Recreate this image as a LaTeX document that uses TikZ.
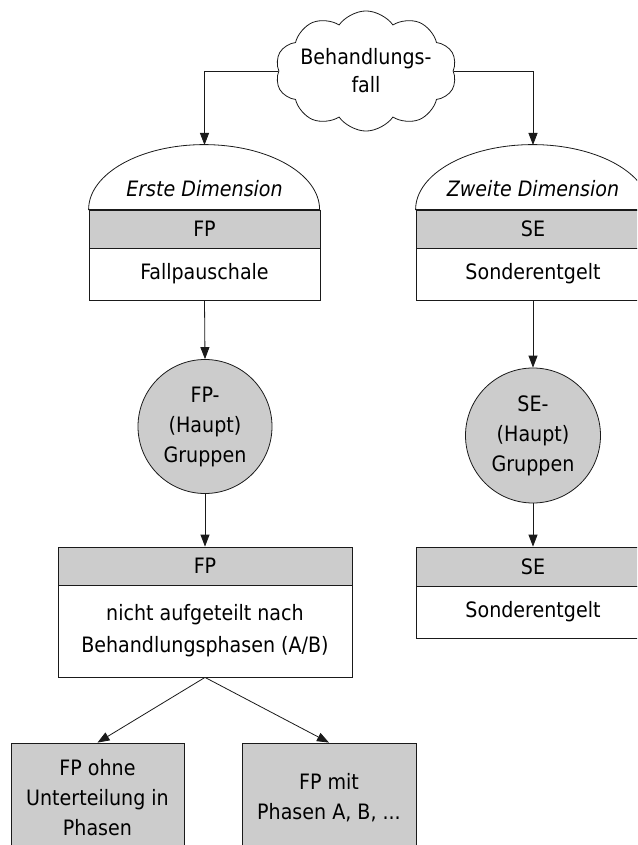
\documentclass[tikz,border=0pt]{standalone}
\usepackage{fontspec}
\setmainfont{DejaVu Sans Condensed}
\usetikzlibrary{shapes.symbols,arrows.meta}
\definecolor{bandgrey}{HTML}{CCCCCC}
\definecolor{linec}{HTML}{1A1A1A}
\begin{document}
\begin{tikzpicture}[x=1pt,y=-1pt,
  every node/.style={font=\fontsize{21.2}{30}\selectfont, align=center, inner sep=0pt, text=black},
  greyband/.style={draw=linec, line width=0.8pt, fill=bandgrey, rectangle},
  whitebox/.style={draw=linec, line width=0.8pt, fill=white, rectangle},
  kreis/.style={draw=linec, line width=0.8pt, fill=bandgrey, circle, minimum size=#1},
  pfeil/.style={draw=linec, line width=0.8pt, -{Triangle[length=12pt,width=9pt]}},
  dome/.style={draw=linec, line width=0.8pt, fill=white}]
\useasboundingbox (0,0) rectangle (637,845);
\clip (0,0) rectangle (637,845);
\fill[white] (0,0) rectangle (637,845);

% cloud
\node[cloud, draw=linec, line width=0.8pt, fill=white, cloud puffs=10, cloud puff arc=110,
      aspect=1.8, inner xsep=-4pt, inner ysep=-7pt,
      font=\fontsize{21.2}{28}\selectfont] (wolke) at (366,71) {Behandlungs-\\fall};

% left top box
\node[greyband, minimum width=231pt, minimum height=38pt] (g1) at (204.5,229) {FP};
\node[whitebox, minimum width=231pt, minimum height=52pt] (w1) at (204.5,274) {Fallpauschale};
\draw[dome] (g1.north west) arc[start angle=180, end angle=0, x radius=115.5pt, y radius=65pt] -- cycle;
\coordinate (d1) at (204.5,145);
\node (e1) at (204.5,189) {\itshape Erste Dimension};

% right top box
\node[greyband, minimum width=234pt, minimum height=38pt] (g2) at (533,229) {SE};
\node[whitebox, minimum width=234pt, minimum height=52pt] (w2) at (533,274) {Sonderentgelt};
\draw[dome] (g2.north west) arc[start angle=180, end angle=0, x radius=117pt, y radius=65pt] -- cycle;
\coordinate (d2) at (533,145);
\node (e2) at (533,189) {\itshape Zweite Dimension};

% circles
\node[kreis=134pt] (c1) at (205,426.5) {FP-\\(Haupt)\\Gruppen};
\node[kreis=135pt] (c2) at (533,435.5) {SE-\\(Haupt)\\Gruppen};

% FP box
\node[greyband, minimum width=294pt, minimum height=38pt] (g3) at (205,566) {FP};
\node[whitebox, minimum width=294pt, minimum height=92pt] (w3) at (205,631) {nicht aufgeteilt nach\\[2pt]Behandlungsphasen (A/B)};

% SE box
\node[greyband, minimum width=234pt, minimum height=39pt] (g4) at (533,566.5) {SE};
\node[whitebox, minimum width=234pt, minimum height=52pt] (w4) at (533,612) {Sonderentgelt};

% bottom boxes
\node[greyband, minimum width=173pt, minimum height=110pt] (b1) at (97.5,798) {FP ohne\\Unterteilung in\\Phasen};
\node[greyband, minimum width=174pt, minimum height=110pt] (b2) at (329,798) {FP mit\\Phasen A, B, ...};

% connectors
\draw[pfeil] (wolke.west) -| (d1);
\draw[pfeil] (wolke.east) -| (d2);
\draw[pfeil] (w1.south) -- (c1.north);
\draw[pfeil] (c1.south) -- (g3.north);
\draw[pfeil] (w2.south) -- (c2.north);
\draw[pfeil] (c2.south) -- (g4.north);
\draw[pfeil] (w3.south) -- (b1.north);
\draw[pfeil] (w3.south) -- (b2.north);
\end{tikzpicture}
\end{document}
